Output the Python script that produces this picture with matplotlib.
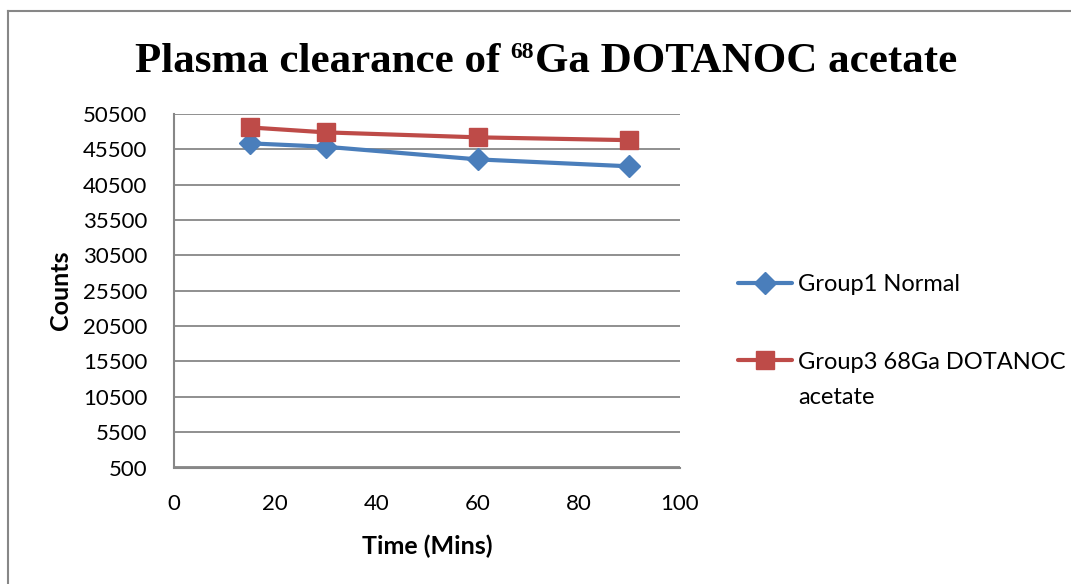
import matplotlib
matplotlib.use("Agg")
import matplotlib.pyplot as plt
from matplotlib.lines import Line2D

TIME_MINS   = [15, 30, 60, 90]
GROUP1      = [46350, 45870, 44080, 43100]
GROUP3      = [48600, 47900, 47200, 46800]
LABELS      = ["Group1 Normal", "Group3 68Ga DOTANOC"]
LABEL_WRAP  = "acetate"
Y_TICKS     = list(range(500, 50501, 5000))
X_TICKS     = [0, 20, 40, 60, 80, 100]
TITLE_PARTS = ["Plasma clearance of", "68", "Ga DOTANOC acetate"]

BLUE, RED, GRID = "#4A7EBB", "#BE4B48", "#878787"
W, H = 1071, 584

plt.rcParams['font.family'] = ['Lato', 'DejaVu Sans']

fig = plt.figure(figsize=(W/100, H/100), dpi=100)
ax = fig.add_axes([174/W, 1 - 467.5/H, (680-174)/W, (467.5-114)/H])

ax.plot(TIME_MINS, GROUP1, color=BLUE, lw=3, marker='D', ms=11, label=LABELS[0], solid_capstyle='round')
ax.plot(TIME_MINS, GROUP3, color=RED, lw=3, marker='s', ms=13, label=LABELS[1], solid_capstyle='round')

ax.set_xlim(0, 100); ax.set_ylim(500, 50500)
ax.set_xticks(X_TICKS); ax.set_yticks(Y_TICKS)
ax.tick_params(length=0, labelsize=16, pad=19)
ax.yaxis.grid(True, color=GRID, lw=1.3); ax.set_axisbelow(True)
for s in ['top', 'right']: ax.spines[s].set_visible(False)
for s in ['left', 'bottom']: ax.spines[s].set_color(GRID); ax.spines[s].set_linewidth(1.5)

ax.set_ylabel("Counts", fontsize=18, fontweight='bold', labelpad=8)
ax.set_xlabel("Time (Mins)", fontsize=18, fontweight='bold', labelpad=15)

leg = ax.legend(loc='upper left', bbox_to_anchor=(738/W, 1 - 274/H), bbox_transform=fig.transFigure,
                frameon=False, fontsize=17, handlelength=2.3, handletextpad=0.25, labelspacing=2.4,
                borderpad=0, borderaxespad=0)

# title: superscript drawn as its own smaller text, laid out in pixels
r = fig.canvas.get_renderer()
sizes, raise_px, gaps = [31, 17, 31], [0, 14, 0], [9, 2]
tt = [fig.text(0, 0, s, fontsize=fs, family='Liberation Serif', fontweight='bold',
               va='baseline', ha='left', transform=None) for s, fs in zip(TITLE_PARTS, sizes)]
widths = [t.get_window_extent(r).width for t in tt]
x = 546.5 - (sum(widths) + sum(gaps)) / 2
base = H - 71.5
for i, t in enumerate(tt):
    t.set_position((x, base + raise_px[i]))
    x += widths[i] + (gaps[i] if i < len(gaps) else 0)

# wrapped second line of legend label 2
fig.canvas.draw()
bb = leg.get_texts()[1].get_window_extent(r)
fig.text(bb.x0, bb.y0 - 35, LABEL_WRAP, fontsize=17, ha='left', va='bottom', transform=None)

fig.add_artist(Line2D([8/W, 8/W], [0, 1 - 11/H], color=GRID, lw=1.5, transform=fig.transFigure))
fig.add_artist(Line2D([8/W, 1], [1 - 11/H, 1 - 11/H], color=GRID, lw=1.5, transform=fig.transFigure))

fig.savefig("out.png", dpi=100)
